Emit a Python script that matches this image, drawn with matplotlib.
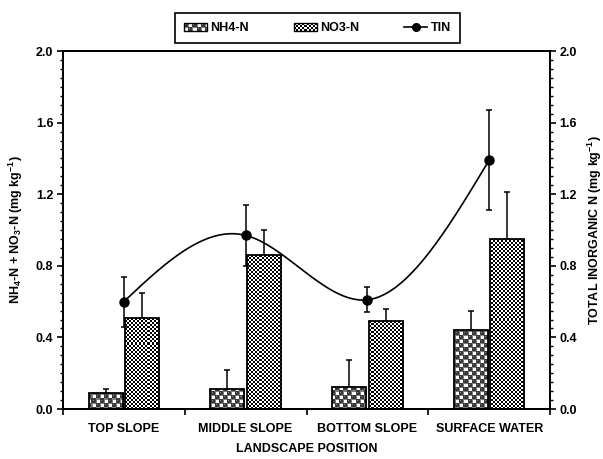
import numpy as np
import matplotlib
matplotlib.use('Agg')
import matplotlib.pyplot as plt
from matplotlib.patches import Rectangle
from matplotlib.lines import Line2D
from matplotlib.image import BboxImage
from matplotlib.transforms import Bbox, TransformedBbox
from matplotlib.legend_handler import HandlerBase

plt.rcParams['font.family'] = ['Liberation Sans', 'DejaVu Sans']
plt.rcParams['font.weight'] = 'bold'
plt.rcParams['mathtext.default'] = 'regular'

# data
positions = ['TOP SLOPE', 'MIDDLE SLOPE', 'BOTTOM SLOPE', 'SURFACE WATER']
nh4 = [0.09, 0.11, 0.125, 0.44]
nh4_err = [0.02, 0.11, 0.15, 0.11]
no3 = [0.51, 0.86, 0.49, 0.95]
no3_err = [0.14, 0.14, 0.07, 0.26]
tin = [0.60, 0.97, 0.61, 1.39]
tin_err = [0.14, 0.17, 0.07, 0.28]
yticks = [0.0, 0.4, 0.8, 1.2, 1.6, 2.0]


def checker_tex(h, w):
    yy, xx = np.mgrid[0:h, 0:w]
    black = ((xx // 2 + yy // 2) % 2) == 0
    tex = np.ones((h, w, 3))
    tex[black] = 0.0
    return tex


def ball_tex(h, w):
    yy, xx = np.mgrid[0:h, 0:w]
    cx = xx % 8
    cy = yy % 8
    ball_cell = (cx < 4) == (cy < 4)
    lx, ly = cx % 4, cy % 4
    d = np.hypot(lx - 1.5, ly - 1.5)
    tex = np.full((h, w, 3), 0.5)
    white = (~ball_cell) & (lx >= 1) & (ly >= 1)
    tex[white] = 1.0
    tex[ball_cell & (d < 2.3)] = 0.22
    tex[ball_cell & (np.hypot(lx - 1.0, ly - 1.0) < 0.6)] = 0.5
    return tex


def natural_spline(xs, ys, xq):
    xs = np.asarray(xs, float)
    ys = np.asarray(ys, float)
    n = len(xs)
    h = np.diff(xs)
    A = np.zeros((n, n))
    b = np.zeros(n)
    A[0, 0] = 1
    A[-1, -1] = 1
    for i in range(1, n - 1):
        A[i, i - 1] = h[i - 1]
        A[i, i] = 2 * (h[i - 1] + h[i])
        A[i, i + 1] = h[i]
        b[i] = 6 * ((ys[i + 1] - ys[i]) / h[i] - (ys[i] - ys[i - 1]) / h[i - 1])
    M = np.linalg.solve(A, b)
    out = np.empty_like(xq)
    for k, x in enumerate(xq):
        i = min(max(np.searchsorted(xs, x) - 1, 0), n - 2)
        t0 = xs[i + 1] - x
        t1 = x - xs[i]
        out[k] = (M[i] * t0**3 + M[i + 1] * t1**3) / (6 * h[i]) \
            + (ys[i] / h[i] - M[i] * h[i] / 6) * t0 \
            + (ys[i + 1] / h[i] - M[i + 1] * h[i] / 6) * t1
    return out


class HandlerTex(HandlerBase):
    def __init__(self, kind):
        super().__init__()
        self.kind = kind

    def create_artists(self, legend, orig_handle, xdescent, ydescent,
                       width, height, fontsize, trans):
        bb = TransformedBbox(Bbox.from_bounds(-xdescent, -ydescent, width, height), trans)
        img = BboxImage(bb, interpolation='nearest')
        hpx, wpx = 8, 22
        img.set_data(ball_tex(hpx, wpx) if self.kind == 'ball' else checker_tex(hpx, wpx))
        edge = Rectangle((-xdescent, -ydescent), width, height, facecolor='none',
                         edgecolor='black', linewidth=1.0, transform=trans)
        return [img, edge]


fig = plt.figure(figsize=(6.03, 4.59), dpi=100)
ax = fig.add_axes([63 / 603, 50 / 459, 487 / 603, 358 / 459])
fig.canvas.draw()
bb = ax.get_window_extent()
W, H = int(round(bb.width)), int(round(bb.height))
tex_ball = ball_tex(H, W)
tex_check = checker_tex(H, W)

x = np.arange(len(positions))
off, bw = 0.15, 0.28

bars1 = ax.bar(x - off, nh4, bw, facecolor='none', edgecolor='black', linewidth=1.3, zorder=3)
bars2 = ax.bar(x + off, no3, bw, facecolor='none', edgecolor='black', linewidth=1.3, zorder=3)
ax.errorbar(x - off, nh4, yerr=[np.zeros(4), nh4_err], fmt='none', ecolor='black',
            elinewidth=1.1, capsize=2.5, capthick=1.1, zorder=2)
ax.errorbar(x + off, no3, yerr=[np.zeros(4), no3_err], fmt='none', ecolor='black',
            elinewidth=1.1, capsize=2.5, capthick=1.1, zorder=2)

for bars, tex in [(bars1, tex_ball), (bars2, tex_check)]:
    for r in bars:
        im = ax.imshow(tex, extent=(0, 1, 0, 1), transform=ax.transAxes,
                       interpolation='nearest', aspect='auto', zorder=2.5)
        im.set_clip_path(r)

ax.set_xlim(-0.5, 3.5)
ax.set_ylim(0, 2.0)
ax.set_xticks([-0.5, 0.5, 1.5, 2.5, 3.5])
ax.set_xticklabels([])
ax.set_xticks(x, minor=True)
ax.set_xticklabels(positions, minor=True, fontsize=9, fontweight='bold')
ax.tick_params(axis='x', which='major', direction='out', length=4, width=1.2)
ax.tick_params(axis='x', which='minor', length=0, pad=10)
ax.set_yticks(yticks)
ax.set_yticklabels(['%.1f' % v for v in yticks], fontsize=9, fontweight='bold')
ax.set_yticks(np.arange(0, 2.001, 0.05), minor=True)
ax.tick_params(axis='y', which='major', direction='out', length=4, width=1.2, pad=3)
ax.tick_params(axis='y', which='minor', direction='out', length=2.5, width=1.0)
ax.set_xlabel('LANDSCAPE POSITION', fontsize=9, fontweight='bold', labelpad=6)
ax.set_ylabel(r'NH$_4$-N + NO$_3$-N (mg kg$^{-1}$)', fontsize=9, fontweight='bold', labelpad=8)
for s in ax.spines.values():
    s.set_linewidth(1.4)

ax2 = ax.twinx()
ax2.set_ylim(0, 2.0)
xs = np.linspace(0, 3, 300)
ax2.plot(xs, natural_spline(x, tin, xs), color='black', linewidth=1.2)
ax2.errorbar(x, tin, yerr=tin_err, fmt='o', color='black', markersize=6.5,
             elinewidth=1.1, capsize=2.5, capthick=1.1)
ax2.set_yticks(yticks)
ax2.set_yticklabels(['%.1f' % v for v in yticks], fontsize=9, fontweight='bold')
ax2.set_yticks(np.arange(0, 2.001, 0.05), minor=True)
ax2.tick_params(axis='y', which='major', direction='out', length=4, width=1.2, pad=3)
ax2.tick_params(axis='y', which='minor', direction='out', length=2.5, width=1.0)
ax2.set_ylabel(r'TOTAL INORGANIC N (mg kg$^{-1}$)', fontsize=9, fontweight='bold', labelpad=6)
for s in ax2.spines.values():
    s.set_linewidth(1.4)

h_nh4 = Rectangle((0, 0), 1, 1)
h_no3 = Rectangle((0, 0), 1, 1)
h_tin = Line2D([], [], color='black', marker='o', markersize=5.5, linewidth=1.2)
leg = fig.legend([h_nh4, h_no3, h_tin], ['NH4-N', 'NO3-N', 'TIN'],
                 handler_map={h_nh4: HandlerTex('ball'), h_no3: HandlerTex('check')},
                 loc='center', bbox_to_anchor=(317.5 / 603, 1 - 28 / 459), ncol=3,
                 fontsize=9, frameon=True, fancybox=False, framealpha=1,
                 edgecolor='black', handlelength=1.8, handleheight=0.6,
                 columnspacing=3.6, handletextpad=0.3, borderpad=0.7)
leg.get_frame().set_linewidth(1.2)
for t in leg.get_texts():
    t.set_fontweight('bold')

fig.savefig('out.png', dpi=100)
